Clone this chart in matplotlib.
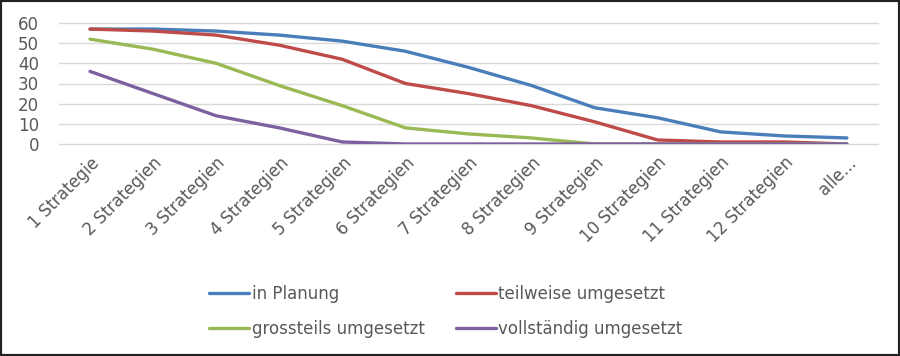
import numpy as np
import matplotlib.pyplot as plt
from matplotlib.patches import Rectangle

plt.rcParams['font.family'] = ['DejaVu Sans']

kategorien = ['1 Strategie', '2 Strategien', '3 Strategien', '4 Strategien',
              '5 Strategien', '6 Strategien', '7 Strategien', '8 Strategien',
              '9 Strategien', '10 Strategien', '11 Strategien', '12 Strategien',
              'alle...']

in_planung = [57, 57, 56, 54, 51, 46, 38, 29, 18, 13, 6, 4, 3]
teilweise = [57, 56, 54, 49, 42, 30, 25, 19, 11, 2, 1, 1, 0]
grossteils = [52, 47, 40, 29, 19, 8, 5, 3, 0, 0, 0, 0, 0]
vollstaendig = [36, 25, 14, 8, 1, 0, 0, 0, 0, 0, 0, 0, 0]

namen = ['in Planung', 'teilweise umgesetzt', 'grossteils umgesetzt', 'vollständig umgesetzt']
farben = ['#4A7EBB', '#BE4B48', '#98B954', '#7D60A0']

fig = plt.figure(figsize=(9, 3.56), dpi=100)
ax = fig.add_axes([0.065, 1 - 144/356, 0.911, 121/356])

x = np.arange(len(kategorien))
linien = []
for werte, name, farbe in zip([in_planung, teilweise, grossteils, vollstaendig], namen, farben):
    l, = ax.plot(x, werte, color=farbe, lw=2.4, label=name, solid_capstyle='round')
    linien.append(l)

ax.set_xlim(-0.5, len(kategorien) - 0.5)
ax.set_ylim(0, 60)
ax.set_yticks(range(0, 61, 10))
ax.set_xticks(x)
ax.set_xticklabels(kategorien, rotation=45, ha='right', rotation_mode='anchor')
ax.grid(axis='y', color='#D9D9D9', lw=1)
for g in ax.get_ygridlines():
    g.set_clip_on(False)  # sonst fehlt die Linie bei 0
ax.set_axisbelow(True)
for s in ax.spines.values():
    s.set_visible(False)
ax.tick_params(axis='both', length=0, colors='#595959', labelsize=12)
ax.tick_params(axis='x', pad=7)
ax.tick_params(axis='y', pad=14)

# Reihenfolge so, dass die Legende zeilenweise gefüllt wird
reihenfolge = [0, 2, 1, 3]
leg = fig.legend([linien[i] for i in reihenfolge], [namen[i] for i in reihenfolge],
                 loc='upper left', bbox_to_anchor=(0.216, 0.241), ncol=2, frameon=False,
                 fontsize=12, handlelength=2.4, columnspacing=1.85, labelspacing=1.0,
                 handletextpad=0.15)
for t in leg.get_texts():
    t.set_color('#595959')

fig.patches.append(Rectangle((0, 0), 1, 1, transform=fig.transFigure, fill=False,
                             edgecolor='#222222', lw=3))

plt.savefig('out.png')
